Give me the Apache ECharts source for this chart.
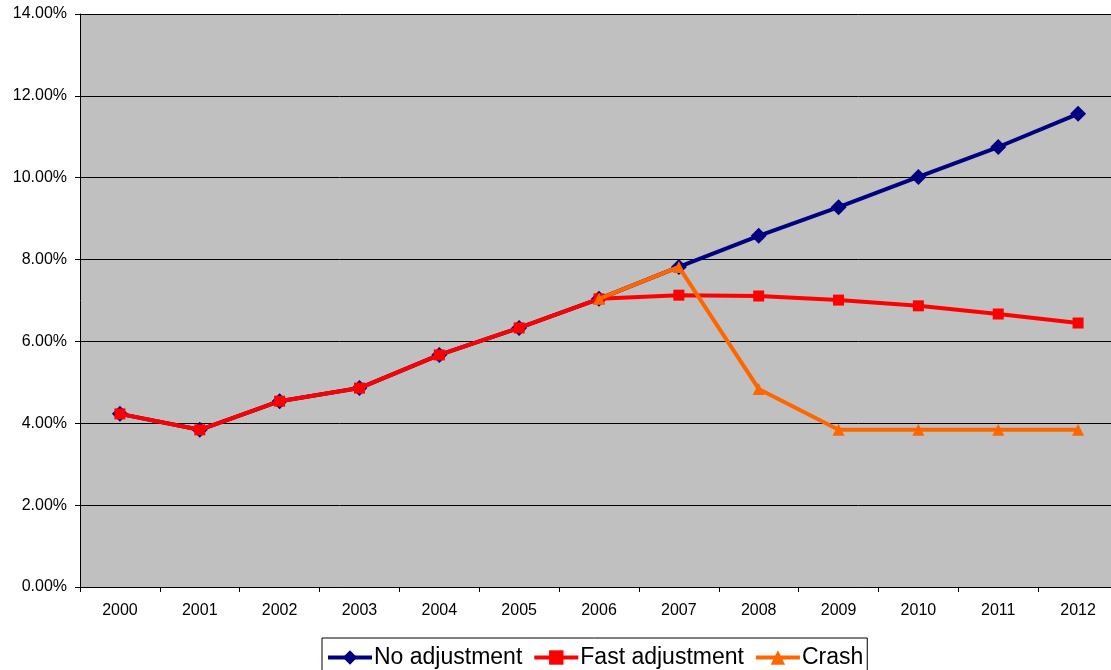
<!DOCTYPE html>
<html>
<head>
<meta charset="utf-8">
<script src="https://cdn.jsdelivr.net/npm/echarts@6/dist/echarts.min.js"></script>
<style>
  html, body { margin: 0; padding: 0; background: #fff; overflow: hidden; }
  #chart { width: 1118px; height: 670px; }
</style>
</head>
<body>
<div id="chart"></div>
<script>
// categories and series values (percent)
var years = ['2000', '2001', '2002', '2003', '2004', '2005', '2006', '2007', '2008', '2009', '2010', '2011', '2012']
var noAdjustment = [4.23, 3.84, 4.54, 4.86, 5.67, 6.33, 7.04, 7.82, 8.58, 9.28, 10.02, 10.75, 11.56]
var fastAdjustment = [4.23, 3.84, 4.54, 4.86, 5.67, 6.33, 7.04, 7.13, 7.11, 7.01, 6.87, 6.67, 6.45]
var crash = [null, null, null, null, null, null, 7.04, 7.82, 4.84, 3.84, 3.84, 3.84, 3.84]

var chart = echarts.init(document.getElementById('chart'))
chart.setOption({
  animation: false,
  textStyle: { fontFamily: 'Liberation Sans, Arial, sans-serif' },
  grid: {
    left: 80,
    right: 0,
    top: 14,
    bottom: 83,
    show: true,
    backgroundColor: '#c0c0c0',
    borderWidth: 0
  },
  legend: {
    top: 638,
    left: 322,
    backgroundColor: '#fff',
    borderColor: '#000',
    borderWidth: 1,
    padding: [8, 4, 6, 4],
    itemGap: 10,
    itemWidth: 44,
    itemHeight: 18,
    lineStyle: { width: 4 },
    textStyle: { fontSize: 23, color: '#000', padding: [0, 0, 0, -3] },
    data: ['No adjustment', 'Fast adjustment', 'Crash']
  },
  xAxis: {
    type: 'category',
    data: years,
    boundaryGap: true,
    axisLine: { lineStyle: { color: '#000', width: 1 } },
    axisTick: { show: true, length: 5, lineStyle: { color: '#000' } },
    axisLabel: { fontSize: 16, color: '#000', margin: 16 }
  },
  yAxis: {
    type: 'value',
    min: 0,
    max: 14,
    interval: 2,
    axisLine: { show: true, lineStyle: { color: '#000', width: 1 } },
    axisTick: { show: true, length: 5, lineStyle: { color: '#000' } },
    axisLabel: {
      fontSize: 16,
      color: '#000',
      margin: 13,
      formatter: function (v) { return v.toFixed(2) + '%' }
    },
    splitLine: { show: true, lineStyle: { color: '#000', width: 1 } }
  },
  series: [
    {
      name: 'No adjustment',
      type: 'line',
      data: noAdjustment,
      color: '#000080',
      symbol: 'diamond',
      symbolSize: 16,
      lineStyle: { width: 4 },
      z: 2
    },
    {
      name: 'Fast adjustment',
      type: 'line',
      data: fastAdjustment,
      color: '#ff0000',
      symbol: 'rect',
      symbolSize: 11,
      lineStyle: { width: 4 },
      z: 3
    },
    {
      name: 'Crash',
      type: 'line',
      data: crash,
      color: '#ff6600',
      symbol: 'triangle',
      symbolSize: 12,
      lineStyle: { width: 4 },
      z: 4
    }
  ]
})
</script>
</body>
</html>
